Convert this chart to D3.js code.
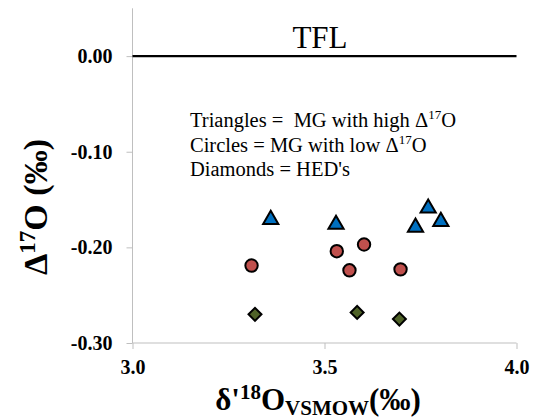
<!DOCTYPE html>
<html>
<head>
<meta charset="utf-8">
<script src="https://cdn.jsdelivr.net/npm/d3@7"></script>
<style>
  body { margin: 0; background: #fff; }
  svg { font-family: "Liberation Serif", "Times New Roman", serif; }
  .tick text { font-family: "Liberation Serif", serif; font-weight: bold; font-size: 20px; }
</style>
</head>
<body>
<script>
// data
const triX = [3.36, 3.53, 3.77, 3.737, 3.803];
const triY = [-0.171, -0.176, -0.159, -0.179, -0.173];
const cirX = [3.31, 3.532, 3.603, 3.565, 3.698];
const cirY = [-0.219, -0.204, -0.197, -0.224, -0.223];
const diaX = [3.319, 3.585, 3.695];
const diaY = [-0.270, -0.268, -0.275];
const xTicks = [3.0, 3.5, 4.0];
const yTicks = [0, -0.1, -0.2, -0.3];
const tfl = [[3.0, 0], [4.0, 0]];

const w = 534, h = 419;
const svg = d3.select("body").append("svg")
  .attr("width", w).attr("height", h);

const xScale = d3.scaleLinear().domain([3.0, 4.0]).range([132.5, 516.5]);
const yScale = d3.scaleLinear().domain([-0.3, 0.05]).range([343, 8.3]);

// axes
const xAxis = d3.axisBottom(xScale).tickValues(xTicks).tickSize(6)
  .tickPadding(8).tickFormat(d => d.toFixed(1));
const yAxis = d3.axisLeft(yScale).tickValues(yTicks).tickSize(6)
  .tickPadding(14).tickFormat(d => d.toFixed(2));

const gx = svg.append("g").attr("transform", "translate(0," + yScale(-0.3) + ")").call(xAxis);
const gy = svg.append("g").attr("transform", "translate(" + xScale(3.0) + ",0)").call(yAxis);

[gx, gy].forEach(g => {
  g.attr("font-family", null).attr("font-size", null);
  g.select(".domain").attr("stroke", "#bfbfbf").attr("stroke-width", 1);
  g.selectAll(".tick line").attr("stroke", "#bfbfbf");
  g.selectAll(".tick text").attr("fill", "#000");
});
// drop the outer tick stubs d3 draws on the domain path
gx.select(".domain").attr("d", "M" + xScale(3.0) + ",0H" + xScale(4.0));
gy.select(".domain").attr("d", "M0," + yScale(0.05) + "V" + yScale(-0.3));
gx.selectAll(".tick text").attr("dy", "0.85em");

// terrestrial fractionation line
svg.append("path")
  .datum(tfl)
  .attr("d", d3.line().x(d => xScale(d[0])).y(d => yScale(d[1])))
  .attr("stroke", "#000").attr("stroke-width", 2.2).attr("fill", "none");

svg.append("text")
  .attr("x", 320).attr("y", 48)
  .attr("text-anchor", "middle")
  .style("font-size", "31px")
  .text("TFL");

// markers
const pts = (xs, ys) => xs.map((x, i) => ({x: x, y: ys[i]}));

svg.selectAll(".tri").data(pts(triX, triY)).enter()
  .append("path").attr("class", "tri")
  .attr("d", d3.symbol().type(d3.symbolTriangle).size(100))
  .attr("transform", d => "translate(" + xScale(d.x) + "," + yScale(d.y) + ")")
  .attr("fill", "#0070c0").attr("stroke", "#000").attr("stroke-width", 2);

svg.selectAll(".cir").data(pts(cirX, cirY)).enter()
  .append("circle").attr("class", "cir")
  .attr("cx", d => xScale(d.x)).attr("cy", d => yScale(d.y))
  .attr("r", 6.2)
  .attr("fill", "#c0504d").attr("stroke", "#000").attr("stroke-width", 2);

svg.selectAll(".dia").data(pts(diaX, diaY)).enter()
  .append("path").attr("class", "dia")
  .attr("d", d3.symbol().type(d3.symbolSquare).size(84))
  .attr("transform", d => "translate(" + xScale(d.x) + "," + yScale(d.y) + ") rotate(45)")
  .attr("fill", "#4f6228").attr("stroke", "#000").attr("stroke-width", 2);

// legend note
const note = [
  ["Triangles =\u00a0 MG with high Δ", "17", "O"],
  ["Circles = MG with low Δ", "17", "O"],
  ["Diamonds = HED's", "", ""]
];
note.forEach((n, i) => {
  const t = svg.append("text")
    .attr("x", 190).attr("y", 127 + i * 24.5)
    .style("font-size", "20.5px");
  t.append("tspan").text(n[0]);
  if (n[1]) {
    t.append("tspan").attr("dy", -8).style("font-size", "13px").text(n[1]);
    t.append("tspan").attr("dy", 8).text(n[2]);
  }
});

// axis titles
const yl = svg.append("text")
  .attr("transform", "translate(47,207) rotate(-90)")
  .attr("text-anchor", "middle")
  .style("font-size", "34px").style("font-weight", "bold");
yl.append("tspan").text("Δ");
yl.append("tspan").attr("dy", -12).style("font-size", "23px").text("17");
yl.append("tspan").attr("dy", 12).text("O (‰)");

const xl = svg.append("text")
  .attr("x", 318).attr("y", 410)
  .attr("text-anchor", "middle")
  .style("font-size", "31px").style("font-weight", "bold");
xl.append("tspan").text("δ'");
xl.append("tspan").attr("dy", -11).style("font-size", "21px").text("18");
xl.append("tspan").attr("dy", 11).text("O");
xl.append("tspan").attr("dy", 5).style("font-size", "21px").text("VSMOW");
xl.append("tspan").attr("dy", -5).text("(‰)");
</script>
</body>
</html>
